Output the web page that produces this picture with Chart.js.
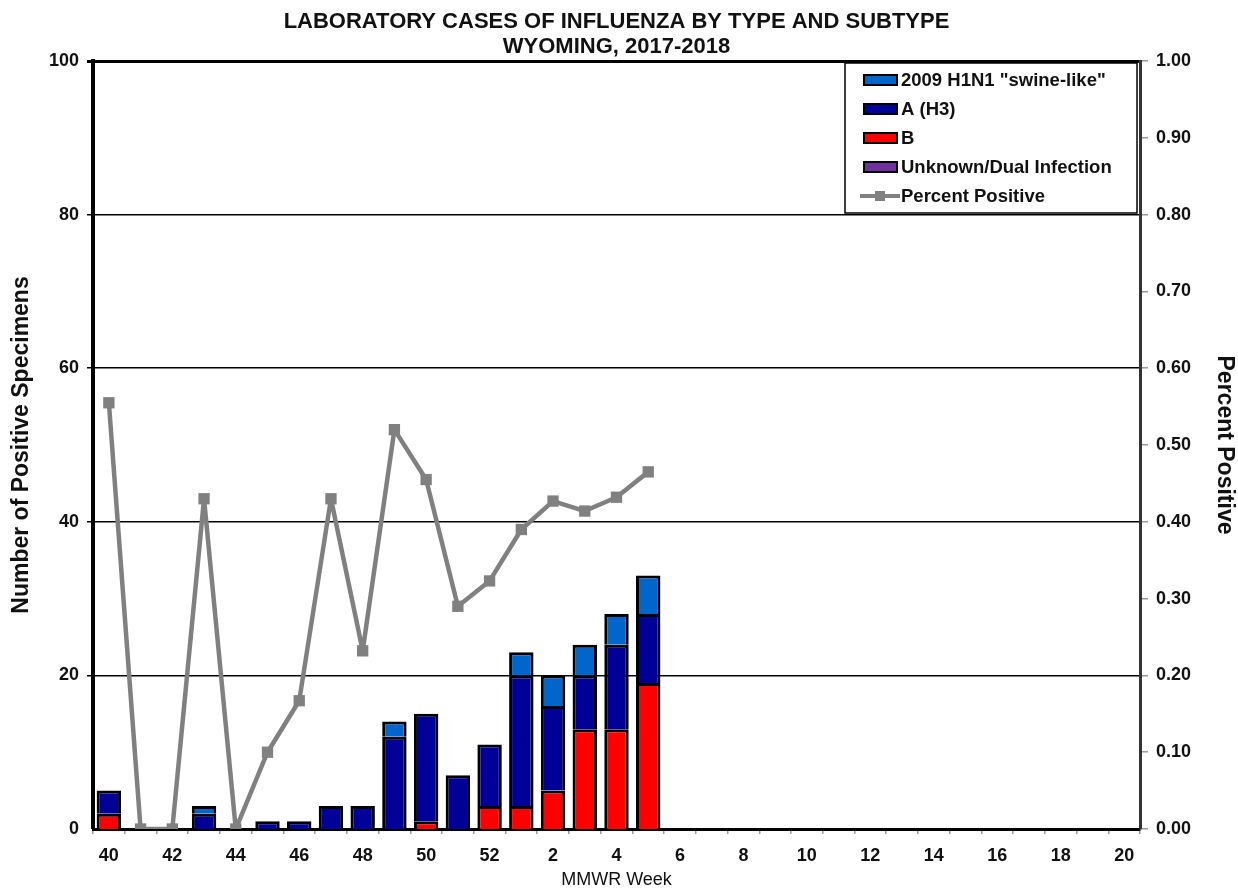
<!DOCTYPE html>
<html>
<head>
<meta charset="utf-8">
<script src="https://cdn.jsdelivr.net/npm/chart.js@4"></script>
<style>
  html, body { margin: 0; padding: 0; background: #fff; }
  #wrap { width: 1238px; height: 888px; }
</style>
</head>
<body>
<div id="wrap"><canvas id="flu"></canvas></div>
<script>
// MMWR weeks 40..52 then 1..20
const weeks = ['40','41','42','43','44','45','46','47','48','49','50','51','52',
  '1','2','3','4','5','6','7','8','9','10','11','12','13','14','15','16','17','18','19','20'];

const h1n1    = [0,0,0,1,0,0,0,0,0,2,0,0,0, 3,4,4,4,5, 0,0,0,0,0,0,0,0,0,0,0,0,0,0,0];
const h3      = [3,0,0,2,0,1,1,3,3,12,14,7,8, 17,11,7,11,9, 0,0,0,0,0,0,0,0,0,0,0,0,0,0,0];
const typeB   = [2,0,0,0,0,0,0,0,0,0,1,0,3, 3,5,13,13,19, 0,0,0,0,0,0,0,0,0,0,0,0,0,0,0];
const unknown = [0,0,0,0,0,0,0,0,0,0,0,0,0, 0,0,0,0,0, 0,0,0,0,0,0,0,0,0,0,0,0,0,0,0];
const pctPositive = [0.555,0,0,0.43,0,0.10,0.167,0.43,0.232,0.52,0.455,0.29,0.323,
  0.39,0.427,0.414,0.432,0.465];

const FONT = 'Liberation Sans, Arial, sans-serif';
const TXT = '#111';

// zero counts draw no segment (so no stray outlines)
const noZero = arr => arr.map(v => (v === 0 ? null : v));

// legend box drawn inside the plot, top right
const legendBox = {
  id: 'legendBox',
  afterDraw(chart) {
    const ctx = chart.ctx;
    const area = chart.chartArea;
    const x = area.right - 295, y = area.top + 2, w = 292, h = 150;
    ctx.save();
    ctx.fillStyle = '#fff';
    ctx.fillRect(x, y, w, h);
    ctx.strokeStyle = '#000';
    ctx.lineWidth = 1.5;
    ctx.strokeRect(x, y, w, h);
    // H1N1, H3, B, Unknown, Percent
    const order = [2, 1, 0, 3, 4];
    order.forEach((di, i) => {
      const ds = chart.data.datasets[di];
      const cy = y + 17 + i * 29;
      if (ds.type === 'line') {
        ctx.strokeStyle = ds.borderColor;
        ctx.lineWidth = 4;
        ctx.beginPath();
        ctx.moveTo(x + 15, cy); ctx.lineTo(x + 55, cy);
        ctx.stroke();
        ctx.fillStyle = ds.borderColor;
        ctx.fillRect(x + 30, cy - 5, 10, 10);
      } else {
        ctx.fillStyle = ds.backgroundColor;
        ctx.fillRect(x + 19, cy - 5, 33, 10);
        ctx.strokeStyle = '#000';
        ctx.lineWidth = 2;
        ctx.strokeRect(x + 19, cy - 5, 33, 10);
      }
      ctx.fillStyle = TXT;
      ctx.font = 'bold 18.5px ' + FONT;
      ctx.textBaseline = 'middle';
      ctx.fillText(ds.label, x + 56, cy + 1);
    });
    ctx.restore();
  }
};

// chart titles drawn above the plot
const topTitle = {
  id: 'topTitle',
  afterDraw(chart) {
    const ctx = chart.ctx;
    const cx = (chart.chartArea.left + chart.chartArea.right) / 2;
    ctx.save();
    ctx.fillStyle = TXT;
    ctx.font = 'bold 22px ' + FONT;
    ctx.textAlign = 'center';
    ctx.textBaseline = 'middle';
    ctx.fillText('LABORATORY CASES OF INFLUENZA BY TYPE AND SUBTYPE', cx, 22);
    ctx.fillText('WYOMING, 2017-2018', cx, 47);
    ctx.restore();
  }
};

const barStyle = { type: 'bar', borderColor: '#000', borderWidth: 3, borderSkipped: 'start',
  stack: 's', yAxisID: 'y', order: 2, barPercentage: 0.77, categoryPercentage: 1 };

new Chart(document.getElementById('flu'), {
  data: {
    labels: weeks,
    datasets: [
      { ...barStyle, label: 'B', data: noZero(typeB), backgroundColor: '#FF0000' },
      { ...barStyle, label: 'A (H3)', data: noZero(h3), backgroundColor: '#000099' },
      { ...barStyle, label: '2009 H1N1 "swine-like"', data: noZero(h1n1), backgroundColor: '#0066CC' },
      { ...barStyle, label: 'Unknown/Dual Infection', data: noZero(unknown), backgroundColor: '#7030A0' },
      { type: 'line', label: 'Percent Positive', data: pctPositive, yAxisID: 'y1', order: 1,
        borderColor: '#808080', backgroundColor: '#808080', borderWidth: 4.5,
        borderJoinStyle: 'bevel',
        pointStyle: 'rect', pointRadius: 8, pointBackgroundColor: '#808080',
        pointBorderWidth: 0, tension: 0 }
    ]
  },
  options: {
    responsive: true,
    maintainAspectRatio: false,
    animation: false,
    layout: { padding: { top: 61, left: 0, right: 0, bottom: 0 } },
    plugins: { legend: { display: false }, tooltip: { enabled: false }, title: { display: false } },
    scales: {
      x: {
        stacked: true,
        offset: true,
        grid: { display: true, drawOnChartArea: false, offset: true, tickLength: 5, color: '#999', lineWidth: 1.5 },
        border: { display: true, color: '#000', width: 3 },
        ticks: {
          autoSkip: false, maxRotation: 0, color: TXT, padding: 11,
          font: { family: FONT, size: 18, weight: 'bold' },
          callback: (v, i) => i % 2 === 0 ? weeks[i] : ''
        },
        title: { display: true, text: 'MMWR Week', color: TXT, padding: { top: 0, bottom: -3 },
          font: { family: FONT, size: 18 } },
        afterFit: s => { s.height = 59; }
      },
      y: {
        stacked: true,
        position: 'left',
        min: 0, max: 100,
        ticks: { stepSize: 20, color: TXT, padding: 8, font: { family: FONT, size: 18, weight: 'bold' } },
        grid: {
          color: '#000',
          lineWidth: c => (c.tick.value === 100 ? 3 : c.tick.value === 0 ? 0 : 1.5),
          tickLength: 6, tickColor: '#000'
        },
        border: { display: true, color: '#000', width: 4 },
        title: { display: true, text: 'Number of Positive Specimens', color: TXT, padding: { top: 8, bottom: 0 },
          font: { family: FONT, size: 23, weight: 'bold' } },
        afterFit: s => { s.width = 93; }
      },
      y1: {
        position: 'right',
        min: 0, max: 1,
        ticks: { stepSize: 0.1, color: TXT, padding: 8, callback: v => v.toFixed(2),
          font: { family: FONT, size: 18, weight: 'bold' } },
        grid: { drawOnChartArea: false, tickLength: 8, color: '#999', lineWidth: 1.5 },
        border: { display: true, color: '#333', width: 3 },
        title: { display: true, text: 'Percent Positive', color: TXT, padding: { top: 0, bottom: 4 },
          font: { family: FONT, size: 23, weight: 'bold' } },
        afterFit: s => { s.width = 98; }
      }
    }
  },
  plugins: [legendBox, topTitle]
});
</script>
</body>
</html>
